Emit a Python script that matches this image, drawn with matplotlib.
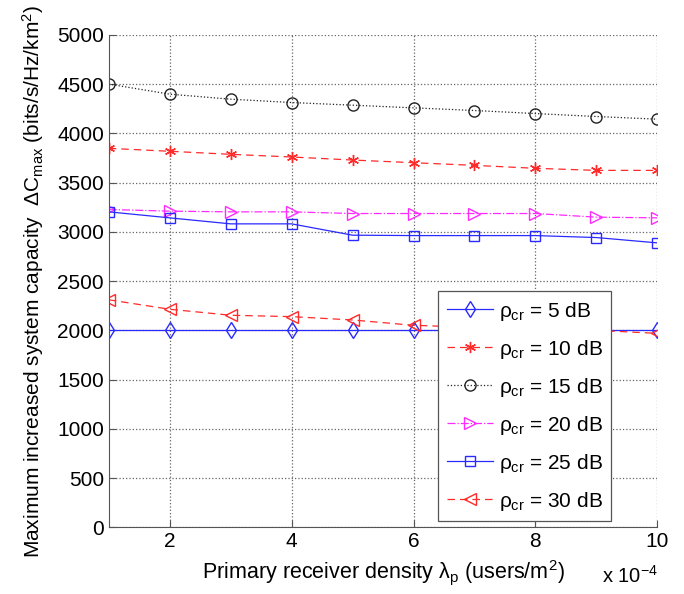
import numpy as np
import matplotlib
matplotlib.use('Agg')
import matplotlib.pyplot as plt

plt.rcParams['font.family'] = ['Liberation Sans', 'DejaVu Sans']
plt.rcParams['mathtext.fontset'] = 'custom'
plt.rcParams['mathtext.rm'] = 'Liberation Sans'
plt.rcParams['mathtext.it'] = 'Liberation Sans'

# Data (x in units of 1e-4 users/m^2)
density = np.arange(1, 11)
cap_5dB = [2000, 2000, 2000, 2000, 2000, 2000, 2000, 2000, 2000, 2000]
cap_10dB = [3848, 3818, 3787, 3760, 3729, 3702, 3675, 3645, 3624, 3624]
cap_15dB = [4500, 4398, 4347, 4313, 4286, 4259, 4232, 4201, 4171, 4144]
cap_20dB = [3227, 3210, 3203, 3203, 3186, 3186, 3186, 3186, 3149, 3142]
cap_25dB = [3203, 3142, 3081, 3081, 2966, 2962, 2962, 2962, 2942, 2888]
cap_30dB = [2310, 2214, 2153, 2139, 2105, 2051, 2030, 2015, 2000, 1969]

blue = '#2a2aff'
red = '#ff2a2a'
mag = '#ff2aff'
blk = '#222222'

fig = plt.figure(figsize=(6.84, 5.94), dpi=100)
ax = fig.add_axes([0.159, 0.1123, 0.802, 0.829])

ms = 8
lw = 0.9
ax.plot(density, cap_5dB, '-', color=blue, lw=lw, marker='d', ms=ms, mfc='none', mec=blue,
        label=r'$\rho_{\mathrm{cr}}$ = 5 dB')
ax.plot(density, cap_10dB, '--', color=red, lw=lw, marker=(6, 2, 0), ms=ms, mec=red,
        label=r'$\rho_{\mathrm{cr}}$ = 10 dB', dashes=(6, 4))
ax.plot(density, cap_15dB, ':', color=blk, lw=lw, marker='o', ms=ms, mfc='none', mec=blk,
        label=r'$\rho_{\mathrm{cr}}$ = 15 dB')
ax.plot(density, cap_20dB, '-.', color=mag, lw=lw, marker='>', ms=ms, mfc='none', mec=mag,
        label=r'$\rho_{\mathrm{cr}}$ = 20 dB')
ax.plot(density, cap_25dB, '-', color=blue, lw=lw, marker='s', ms=7, mfc='none', mec=blue,
        label=r'$\rho_{\mathrm{cr}}$ = 25 dB')
ax.plot(density, cap_30dB, '--', color=red, lw=lw, marker='<', ms=ms, mfc='none', mec=red,
        label=r'$\rho_{\mathrm{cr}}$ = 30 dB', dashes=(6, 4))

ax.set_xlim(1, 10)
ax.set_ylim(0, 5000)
ax.set_xticks([2, 4, 6, 8, 10])
ax.set_yticks(np.arange(0, 5001, 500))
ax.grid(True, linestyle=':', color='#666666', lw=0.9)
for s in ['top', 'right']:
    ax.spines[s].set_visible(False)
for s in ['left', 'bottom']:
    ax.spines[s].set_color('#555555')
ax.tick_params(direction='in', labelsize=15, colors='#555555', labelcolor='black', length=5)

ax.set_xlabel(r'Primary receiver density $\lambda_{\mathrm{p}}$ (users/m$^2$)', fontsize=15.5,
              labelpad=5)
ax.set_ylabel(r'Maximum increased system capacity  $\Delta\mathrm{C}_{\mathrm{max}}$ (bits/s/Hz/km$^2$)',
              fontsize=15, labelpad=8)
fig.text(0.962, 0.0185, r'x 10$^{-4}$', ha='right', va='baseline', fontsize=14.5)

leg = ax.legend(loc='lower right', bbox_to_anchor=(0.9156, 0.0128), borderaxespad=0,
                fontsize=15, fancybox=False, framealpha=1, edgecolor='#555555',
                handlelength=2.2, labelspacing=0.72, borderpad=0.4, handletextpad=0.3)
leg.get_frame().set_linewidth(0.9)

fig.savefig('out.png', dpi=100)
